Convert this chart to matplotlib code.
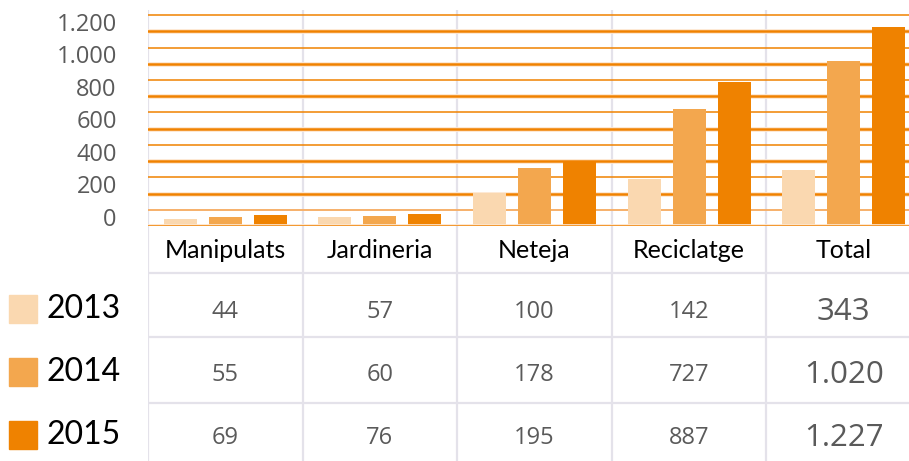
import matplotlib.pyplot as plt
from matplotlib import font_manager
from matplotlib.patches import Rectangle
from matplotlib.transforms import ScaledTranslation

###### DATA ######
categories = ["Manipulats", "Jardineria", "Neteja", "Reciclatge", "Total"]
years = ["2013", "2014", "2015"]
# values printed in the table
table_2013 = ["44", "57", "100", "142", "343"]
table_2014 = ["55", "60", "178", "727", "1.020"]
table_2015 = ["69", "76", "195", "887", "1.227"]
# bar heights as drawn in the chart
bars_2013 = [42, 54, 202, 287, 343]
bars_2014 = [54, 60, 358, 722, 1020]
bars_2015 = [66, 72, 395, 887, 1227]
y_ticks = [0, 200, 400, 600, 800, 1000, 1200]
y_tick_labels = ["0", "200", "400", "600", "800", "1.000", "1.200"]

colors = ["#fad8b0", "#f3a74e", "#ef8200"]
grid_orange = "#f08200"
sep_grey = "#e4e2ea"
num_grey = "#5a5a5a"

installed = {f.name for f in font_manager.fontManager.ttflist}
num_font = [f for f in ["Open Sans", "DejaVu Sans"] if f in installed]
head_font = [f for f in ["Lato", "DejaVu Sans"] if f in installed]

###### FIGURE ######
W, H = 909, 461
fig = plt.figure(figsize=(W / 100, H / 100), dpi=100)

col_left, col_w = 148, 154.6
x_right = (W - col_left) / col_w - 0.5
base_px, top_px = 226, 10

ax = fig.add_axes([col_left / W, (H - base_px) / H, (W - col_left) / W, (base_px - top_px) / H])
ax.set_xlim(-0.5, x_right)
ax.set_ylim(0, 1332)
for s in ax.spines.values():
    s.set_visible(False)
ax.set_xticks([])

# column separators
for i in range(len(categories)):
    ax.axvline(i - 0.5, color=sep_grey, lw=1.6, zorder=0)

# gridlines
for v in range(200, 1201, 200):
    ax.axhline(v, color="#fde6cf", lw=3.4, zorder=1)
    ax.axhline(v, color=grid_orange, lw=1.8, zorder=1.1)
for v in range(300, 1301, 200):
    ax.axhline(v, color=grid_orange, lw=1.1, zorder=1.1)
ax.axhline(100, color="#f6b06a", lw=1.4, zorder=1.1)

# bars
step, bw = 45 / col_w, 33 / col_w
xs = range(len(categories))
for k, vals in enumerate([bars_2013, bars_2014, bars_2015]):
    ax.bar([x + (k - 1) * step for x in xs], vals, width=bw, color=colors[k], zorder=2)

ax.axhline(0, color="#fde6cf", lw=3.4, zorder=3)
ax.axhline(0, color=grid_orange, lw=1.8, zorder=3.1)

ax.set_yticks(y_ticks)
ax.set_yticklabels(y_tick_labels, family=num_font, fontsize=17, color=num_grey)
ax.tick_params(axis="y", length=0, pad=22.5)
offset = ScaledTranslation(0, 9.5 / 100, fig.dpi_scale_trans)
for lbl in ax.get_yticklabels():
    lbl.set_transform(lbl.get_transform() + offset)

###### TABLE ######
tx = fig.add_axes([col_left / W, 0, (W - col_left) / W, (H - base_px) / H])
tx.set_xlim(-0.5, x_right)
tx.set_ylim(H, base_px)
tx.axis("off")
for i in range(len(categories)):
    tx.axvline(i - 0.5, color=sep_grey, lw=1.6, zorder=0)
for y in [273, 337, 403]:
    tx.axhline(y, color=sep_grey, lw=1.6, zorder=0)

for i, c in enumerate(categories):
    tx.text(i, 250, c, ha="center", va="center", family=head_font, fontsize=18, color="black")

row_y = [312, 375, 438]
for r, row in enumerate([table_2013, table_2014, table_2015]):
    for i, t in enumerate(row):
        big = i == len(row) - 1
        tx.text(i, row_y[r], t, ha="center", va="center", family=num_font,
                fontsize=22.5 if big else 17, color=num_grey)

# legend
for r, yr in enumerate(years):
    yc = row_y[r] - 3
    fig.patches.append(Rectangle((9 / W, (H - yc - 14) / H), 28 / W, 28 / H,
                                 transform=fig.transFigure, color=colors[r]))
    fig.text(47 / W, (H - yc) / H, yr, ha="left", va="center", family=head_font,
             fontsize=23, color="black")

fig.savefig("out.png", dpi=100)
